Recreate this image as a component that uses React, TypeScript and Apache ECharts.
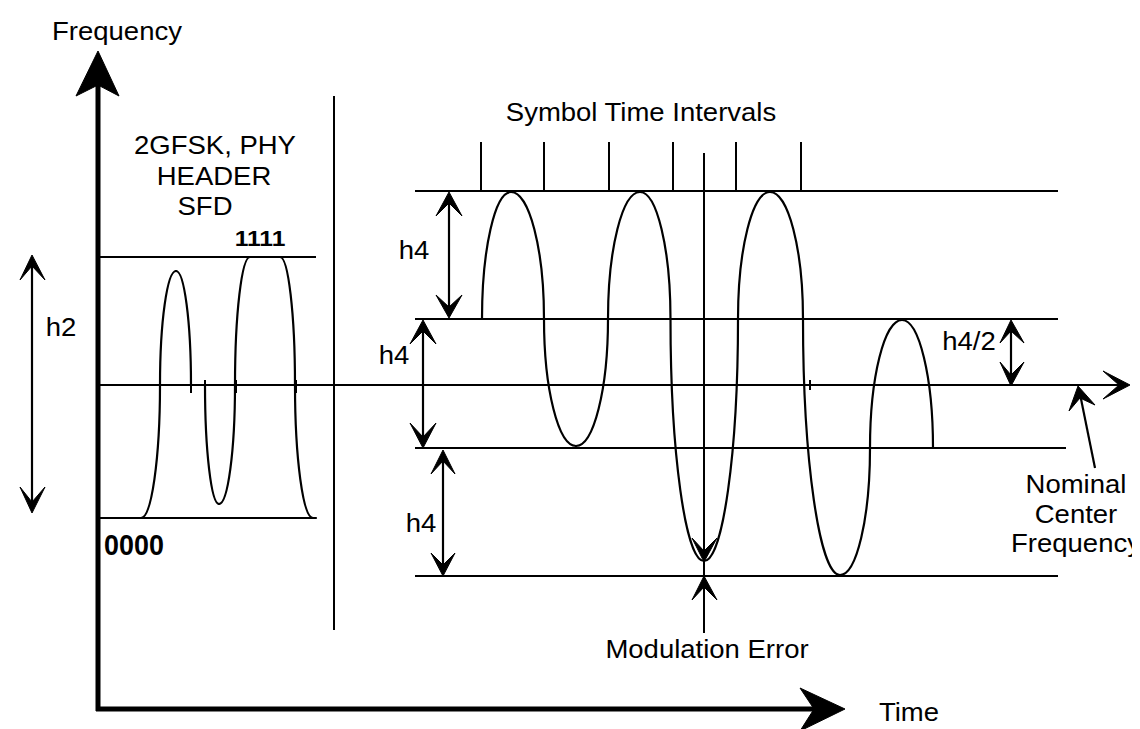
import React, { useEffect, useRef } from "react";
import * as echarts from "echarts";

type Pt = [number, number];
// knot: x, y, kind ("c" = level crossing with vertical tangent, "e" = extremum / flat)
type Knot = [number, number, "c" | "e"];

// Diagram units are the reference picture's pixels (x to the right, y downwards)
const X_RANGE: Pt = [0, 1140];
const Y_RANGE: Pt = [0, 729];

// ---- thick main axes ----
const freqAxis: Pt[] = [[90, 703], [90, 72]];
const timeAxis: Pt[] = [[88, 701], [808, 701]];

// ---- reference levels ----
const levelLines: Pt[][] = [
  [[92, 249], [308, 249]],
  [[92, 510], [308, 510]],
  [[92, 377], [1112, 377]],
  [[407, 183], [1050, 183]],
  [[407, 311], [1050, 311]],
  [[407, 440], [1058, 440]],
  [[407, 568], [1050, 568]],
];
const separatorLine: Pt[] = [[326, 88], [326, 622]];
const symbolTickX: number[] = [473, 536, 601, 665, 728, 793];
const symbolTickSpan: Pt = [134, 183];
const modErrorLine: Pt[] = [[696, 145], [696, 625]];
const dimensionShafts: Pt[][] = [
  [[24, 252], [24, 500]],
  [[441, 188], [441, 306]],
  [[415, 316], [415, 436]],
  [[435, 446], [435, 564]],
  [[1003, 316], [1003, 374]],
  [[1087, 460], [1072, 386]],
];
const joinTicks: Pt[][] = [
  [[152, 372], [152, 385]],
  [[183, 372], [183, 385]],
  [[197, 372], [197, 385]],
  [[228, 372], [228, 385]],
  [[288, 372], [288, 385]],
  [[802, 372], [802, 382]],
];

// ---- 2GFSK header waveform (two strokes) ----
const sfdKnotsA: Knot[] = [
  [92, 510, "e"], [133, 510, "e"], [152, 377, "c"], [168, 263, "e"], [183, 377, "c"],
];
const sfdKnotsB: Knot[] = [
  [197, 377, "c"], [211, 496, "e"], [227, 377, "c"], [242, 249, "e"], [272, 249, "e"],
  [287, 377, "c"], [305, 510, "e"], [308, 510, "e"],
];

// ---- 4GFSK payload waveform ----
const payloadKnots: Knot[] = [
  [474, 311, "c"], [503, 184, "e"], [536, 311, "c"], [568, 438, "e"], [600, 311, "c"],
  [632, 184, "e"], [662.5, 311, "c"], [696, 553, "e"], [730, 311, "c"], [762, 184, "e"],
  [795, 311, "c"], [832, 567, "e"], [862, 440, "c"], [894, 312, "e"], [925, 440, "c"],
];
const waves: Knot[][] = [sfdKnotsA, sfdKnotsB, payloadKnots];

// ---- arrow heads: tip, barb, notch, barb ----
const arrowHeads: number[][] = [
  [90, 43, 68, 88, 90, 77, 111, 88],
  [837, 701, 792, 680, 806, 701, 792, 723],
  [1122, 377, 1095, 363, 1111, 377, 1095, 391],
  [24, 247, 12, 272, 24, 258, 37, 272],
  [24, 505, 12, 479, 24, 494, 37, 479],
  [441, 184, 428, 208, 441, 195, 454, 208],
  [441, 310, 428, 287, 441, 299, 454, 287],
  [415, 312, 402, 336, 415, 323, 428, 336],
  [415, 440, 402, 415, 415, 429, 428, 415],
  [435, 442, 423, 466, 435, 453, 447, 466],
  [435, 568, 423, 545, 435, 557, 447, 545],
  [1003, 312, 992, 335, 1003, 323, 1016, 335],
  [1003, 378, 992, 354, 1003, 367, 1016, 354],
  [696, 554, 684, 530, 696, 543, 709, 530],
  [696, 568, 684, 592, 696, 579, 709, 592],
  [1070, 378, 1061, 403, 1072, 390, 1087, 397],
];

// ---- texts ----
const labelTexts: string[] = [
  "Frequency", "2GFSK, PHY", "HEADER", "SFD", "1111", "0000", "h2",
  "Symbol Time Intervals", "h4", "h4", "h4", "h4/2", "Modulation Error",
  "Nominal", "Center", "Frequency", "Time",
];
const labelAnchors: Pt[] = [
  [109, 23], [207, 137], [206, 168], [197, 198], [252, 230], [126, 536], [53, 319],
  [633, 104], [406, 242], [386, 347], [413, 515], [961, 333], [699, 641],
  [1068, 476], [1068, 506], [1068, 535], [901, 704],
];
const labelBold: boolean[] = [
  false, false, false, false, true, true, false,
  false, false, false, false, false, false,
  false, false, false, false,
];

const FONT = '"Liberation Sans", Arial, Helvetica, sans-serif';
const KAPPA = 0.5523;

function lineSeries(pts: Pt[], width: number) {
  return {
    type: "line",
    data: pts,
    symbol: "none",
    silent: true,
    lineStyle: { color: "#000", width, cap: "butt", join: "round" },
    z: 2,
  };
}

export default function App() {
  const ref = useRef<HTMLDivElement>(null);

  useEffect(() => {
    if (!ref.current) return;
    const chart = echarts.init(ref.current, undefined, { renderer: "svg" });

    const series: any[] = [];
    series.push(lineSeries(freqAxis, 5));
    series.push(lineSeries(timeAxis, 5));
    levelLines.forEach((l) => series.push(lineSeries(l, 2)));
    series.push(lineSeries(separatorLine, 2));
    symbolTickX.forEach((x) =>
      series.push(lineSeries([[x, symbolTickSpan[0]], [x, symbolTickSpan[1]]], 2))
    );
    series.push(lineSeries(modErrorLine, 2));
    dimensionShafts.forEach((l) => series.push(lineSeries(l, 2.2)));
    joinTicks.forEach((l) => series.push(lineSeries(l, 2)));

    // waveforms: quarter-ellipse bezier pieces between knots
    series.push({
      type: "custom",
      silent: true,
      data: waves.map((w) => [w[0][0], w[0][1]]),
      z: 3,
      renderItem: (params: any, api: any) => {
        const knots = waves[params.dataIndex];
        const children: any[] = [];
        for (let i = 0; i < knots.length - 1; i++) {
          const [ax, ay, ak] = knots[i];
          const [bx, by, bk] = knots[i + 1];
          let c1: Pt, c2: Pt;
          if (ak === "c" && bk === "e") {
            c1 = [ax, ay + KAPPA * (by - ay)];
            c2 = [bx - KAPPA * (bx - ax), by];
          } else if (ak === "e" && bk === "c") {
            c1 = [ax + KAPPA * (bx - ax), ay];
            c2 = [bx, by - KAPPA * (by - ay)];
          } else {
            c1 = [ax + (bx - ax) / 3, ay + (by - ay) / 3];
            c2 = [ax + (2 * (bx - ax)) / 3, ay + (2 * (by - ay)) / 3];
          }
          const p0 = api.coord([ax, ay]);
          const p1 = api.coord(c1);
          const p2 = api.coord(c2);
          const p3 = api.coord([bx, by]);
          children.push({
            type: "bezierCurve",
            shape: {
              x1: p0[0], y1: p0[1], cpx1: p1[0], cpy1: p1[1],
              cpx2: p2[0], cpy2: p2[1], x2: p3[0], y2: p3[1],
            },
            style: { stroke: "#000", lineWidth: 2.2, fill: "none", lineCap: "round" },
          });
        }
        return { type: "group", children };
      },
    });

    series.push({
      type: "custom",
      silent: true,
      data: arrowHeads,
      encode: { x: [0, 2, 4, 6], y: [1, 3, 5, 7] },
      z: 4,
      renderItem: (_params: any, api: any) => {
        const pts = [0, 1, 2, 3].map((k) => api.coord([api.value(2 * k), api.value(2 * k + 1)]));
        return {
          type: "polygon",
          shape: { points: pts },
          style: { fill: "#000", stroke: "#000", lineWidth: 1, lineJoin: "miter" },
        };
      },
    });

    series.push({
      type: "custom",
      silent: true,
      data: labelAnchors,
      z: 5,
      renderItem: (params: any, api: any) => {
        const i = params.dataIndex;
        const p = api.coord([api.value(0), api.value(1)]);
        const bold = labelBold[i];
        const isZero = labelTexts[i] === "0000";
        const size = bold ? (isZero ? 24 : 22) : 25;
        return {
          type: "text",
          x: p[0],
          y: p[1],
          scaleX: bold ? 1.12 : 1.1,
          scaleY: isZero ? 1.25 : 1,
          style: {
            text: labelTexts[i],
            x: 0,
            y: 0,
            align: "center",
            verticalAlign: "middle",
            font: `${bold ? "bold " : ""}${size}px ${FONT}`,
            fill: "#000",
          },
        };
      },
    });

    chart.setOption({
      animation: false,
      backgroundColor: "#fff",
      grid: { left: 0, right: 0, top: 0, bottom: 0, containLabel: false },
      xAxis: { type: "value", min: X_RANGE[0], max: X_RANGE[1], show: false },
      yAxis: { type: "value", min: Y_RANGE[0], max: Y_RANGE[1], inverse: true, show: false },
      tooltip: { show: false },
      series,
    });

    return () => chart.dispose();
  }, []);

  return (
    <div
      ref={ref}
      style={{ position: "fixed", left: 0, top: 0, width: 1140, height: 729, background: "#fff" }}
    />
  );
}
